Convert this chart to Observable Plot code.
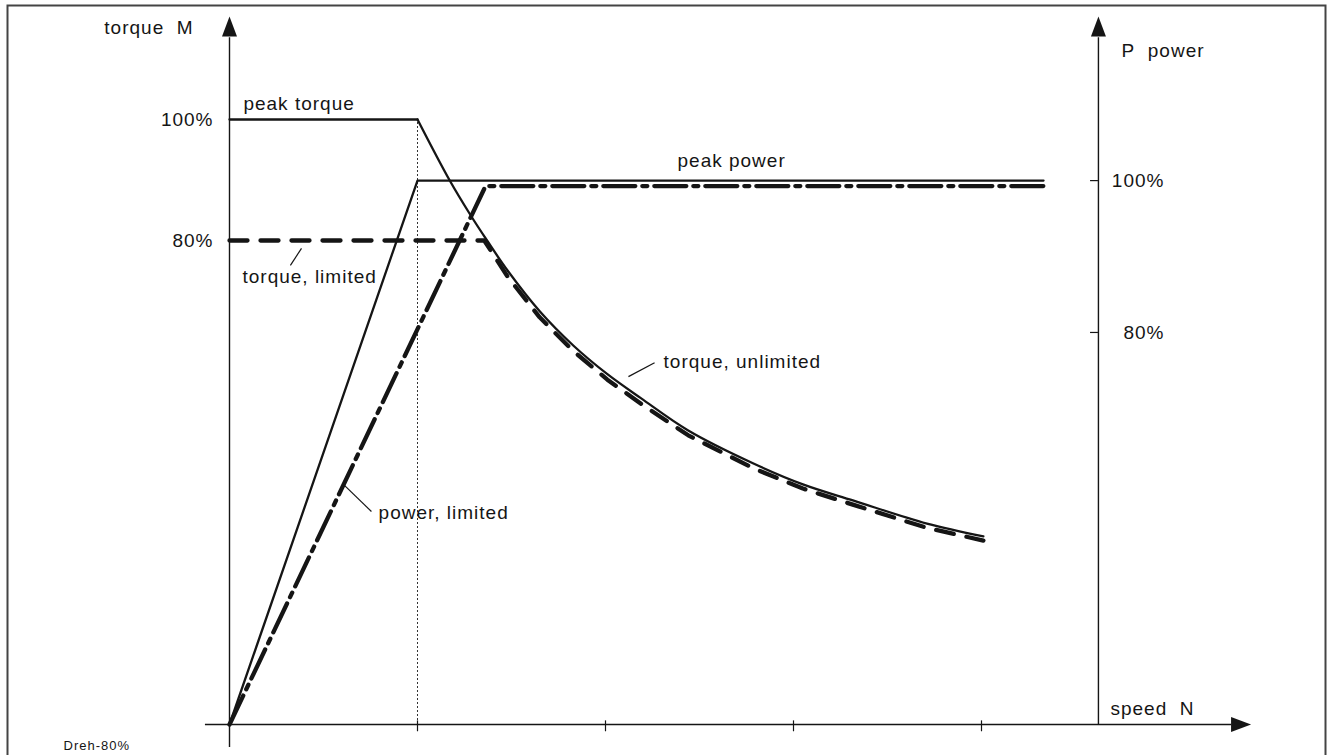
<!DOCTYPE html>
<html>
<head>
<meta charset="utf-8">
<script src="https://cdn.jsdelivr.net/npm/d3@7"></script>
<script src="https://cdn.jsdelivr.net/npm/@observablehq/plot@0.6"></script>
<style>
  html, body { margin: 0; padding: 0; background: #fff; }
  #chart svg { display: block; overflow: hidden; }
</style>
</head>
<body>
<div id="chart"></div>
<script>
// ---- data (x: speed in tick units, y: torque in % of peak torque) ----
const speedTicks = [1, 2, 3, 4];
const torqueTicks = [100, 80];
const torqueTickLabels = ["100%", "80%"];
// right (power) axis ticks, expressed on the torque scale
const powerTickPos = [89.9, 64.8];
const powerTickLabels = ["100%", "80%"];

const peakTorqueFlatN = [0, 1];
const peakTorqueFlatT = [100, 100];
const peakTorqueCurveN = [1, 1.17, 1.28, 1.37, 1.48, 1.65, 1.83, 2.01, 2.19, 2.44, 2.79, 3.05, 3.32, 3.71, 4.01];
const peakTorqueCurveT = [100, 90, 84.3, 80, 75, 68.3, 62.6, 57.9, 53.9, 48.6, 43.1, 39.7, 37.0, 33.2, 31.1];

const limitedTorqueN = [0, 1.355, 1.48, 1.65, 1.83, 2.01, 2.19, 2.44, 2.79, 3.05, 3.32, 3.71, 4.01];
const limitedTorqueT = [80, 80, 74, 67.3, 61.7, 57.0, 53.0, 47.8, 42.3, 39.0, 36.3, 32.5, 30.4];

const peakPowerN = [0, 1, 4.33];
const peakPowerT = [0, 89.9, 89.9];

const limitedPowerN = [0, 1.362, 4.33];
const limitedPowerT = [0, 89.0, 89.0];

// annotations
const labelTexts = ["torque\u00a0\u00a0M", "peak torque", "peak power", "torque, limited", "torque, unlimited", "power, limited", "P\u00a0\u00a0power", "speed\u00a0\u00a0N"];
const labelN =     [-0.191, 0.074, 2.383, 0.069, 2.309, 0.793, 4.745, 4.686];
const labelT =     [115.2, 102.6, 93.2, 74.0, 60.0, 34.9, 111.4, 2.64];
const labelAnchor = ["end", "start", "start", "start", "start", "start", "start", "start"];

const leaderN1 = [0.383, 2.122, 0.606];
const leaderT1 = [78.7, 57.5, 39.7];
const leaderN2 = [0.324, 2.261, 0.755];
const leaderT2 = [75.9, 59.8, 35.2];

const footnote = "Dreh-80%";

// ---- build tables ----
const zip = (xs, ys) => xs.map((x, i) => ({x, y: ys[i]}));
const labels = labelTexts.map((t, i) => ({text: t, x: labelN[i], y: labelT[i], anchor: labelAnchor[i]}));
const leaders = leaderN1.map((x1, i) => ({x1, y1: leaderT1[i], x2: leaderN2[i], y2: leaderT2[i]}));

const ink = "#151515";
const arrowHead = {
  draw(ctx) {
    ctx.moveTo(0, -10.5);
    ctx.lineTo(7.5, 9.5);
    ctx.lineTo(-7.5, 9.5);
    ctx.closePath();
  }
};
const arrows = [
  {x: 0, y: 115.3, r: 0},
  {x: 4.622, y: 115.3, r: 0},
  {x: 5.378, y: 0, r: 90}
];

const chart = Plot.plot({
  width: 1332,
  height: 755,
  margin: 0,
  style: {fontFamily: "'Liberation Sans', Arial, sans-serif", fontSize: "19px", letterSpacing: "1px", background: "#fff", color: ink},
  x: {domain: [-229 / 188, (1332 - 229) / 188], axis: null},
  y: {domain: [(724 - 755) / 6.05, 724 / 6.05], axis: null},
  marks: [
    Plot.frame({stroke: "#444", strokeWidth: 2, insetLeft: 7, insetTop: 5, insetRight: 7, insetBottom: -20}),
    // dotted guide at base speed
    Plot.ruleX([1], {y1: 0, y2: 100, stroke: "#333", strokeWidth: 1, strokeDasharray: "2,2"}),
    // axes
    Plot.ruleX([0], {y1: -3.8, y2: 113.5, stroke: ink, strokeWidth: 1.4}),
    Plot.ruleX([4.622], {y1: 0, y2: 113.5, stroke: ink, strokeWidth: 1.4}),
    Plot.ruleY([0], {x1: -0.128, x2: 5.33, stroke: ink, strokeWidth: 1.4}),
    Plot.ruleX(speedTicks, {y1: 0.6, y2: -1.2, stroke: ink, strokeWidth: 1.2}),
    Plot.ruleY(powerTickPos, {x1: 4.58, x2: 4.622, stroke: ink, strokeWidth: 1.2}),
    Plot.dot(arrows, {x: "x", y: "y", rotate: "r", symbol: arrowHead, fill: ink, stroke: "none"}),
    // tick labels
    Plot.text(torqueTicks, {x: 0, y: d => d, text: (d, i) => torqueTickLabels[i], textAnchor: "end", dx: -16, fill: ink}),
    Plot.text(powerTickPos, {x: 4.622, y: d => d, text: (d, i) => powerTickLabels[i], textAnchor: "end", dx: 66, fill: ink}),
    // curves
    Plot.line(zip(peakTorqueFlatN, peakTorqueFlatT), {x: "x", y: "y", stroke: ink, strokeWidth: 2.3}),
    Plot.line(zip(peakTorqueCurveN, peakTorqueCurveT), {x: "x", y: "y", stroke: ink, strokeWidth: 2.3, curve: "catmull-rom"}),
    Plot.line(zip(limitedTorqueN, limitedTorqueT), {x: "x", y: "y", stroke: ink, strokeWidth: 4.3, strokeDasharray: "18,13", curve: "linear"}),
    Plot.line(zip(peakPowerN, peakPowerT), {x: "x", y: "y", stroke: ink, strokeWidth: 2.3}),
    Plot.line(zip(limitedPowerN, limitedPowerT), {x: "x", y: "y", stroke: ink, strokeWidth: 4.3, strokeDasharray: "32,7,5,7"}),
    // annotations
    Plot.link(leaders, {x1: "x1", y1: "y1", x2: "x2", y2: "y2", stroke: ink, strokeWidth: 1.2}),
    Plot.text(labels.filter(d => d.anchor === "start"), {x: "x", y: "y", text: "text", textAnchor: "start", fill: ink}),
    Plot.text(labels.filter(d => d.anchor === "end"), {x: "x", y: "y", text: "text", textAnchor: "end", fill: ink}),
    Plot.text([footnote], {x: -0.883, y: -3.47, text: d => d, textAnchor: "start", fontSize: 13, fill: ink})
  ]
});
document.getElementById("chart").appendChild(chart);
</script>
</body>
</html>
